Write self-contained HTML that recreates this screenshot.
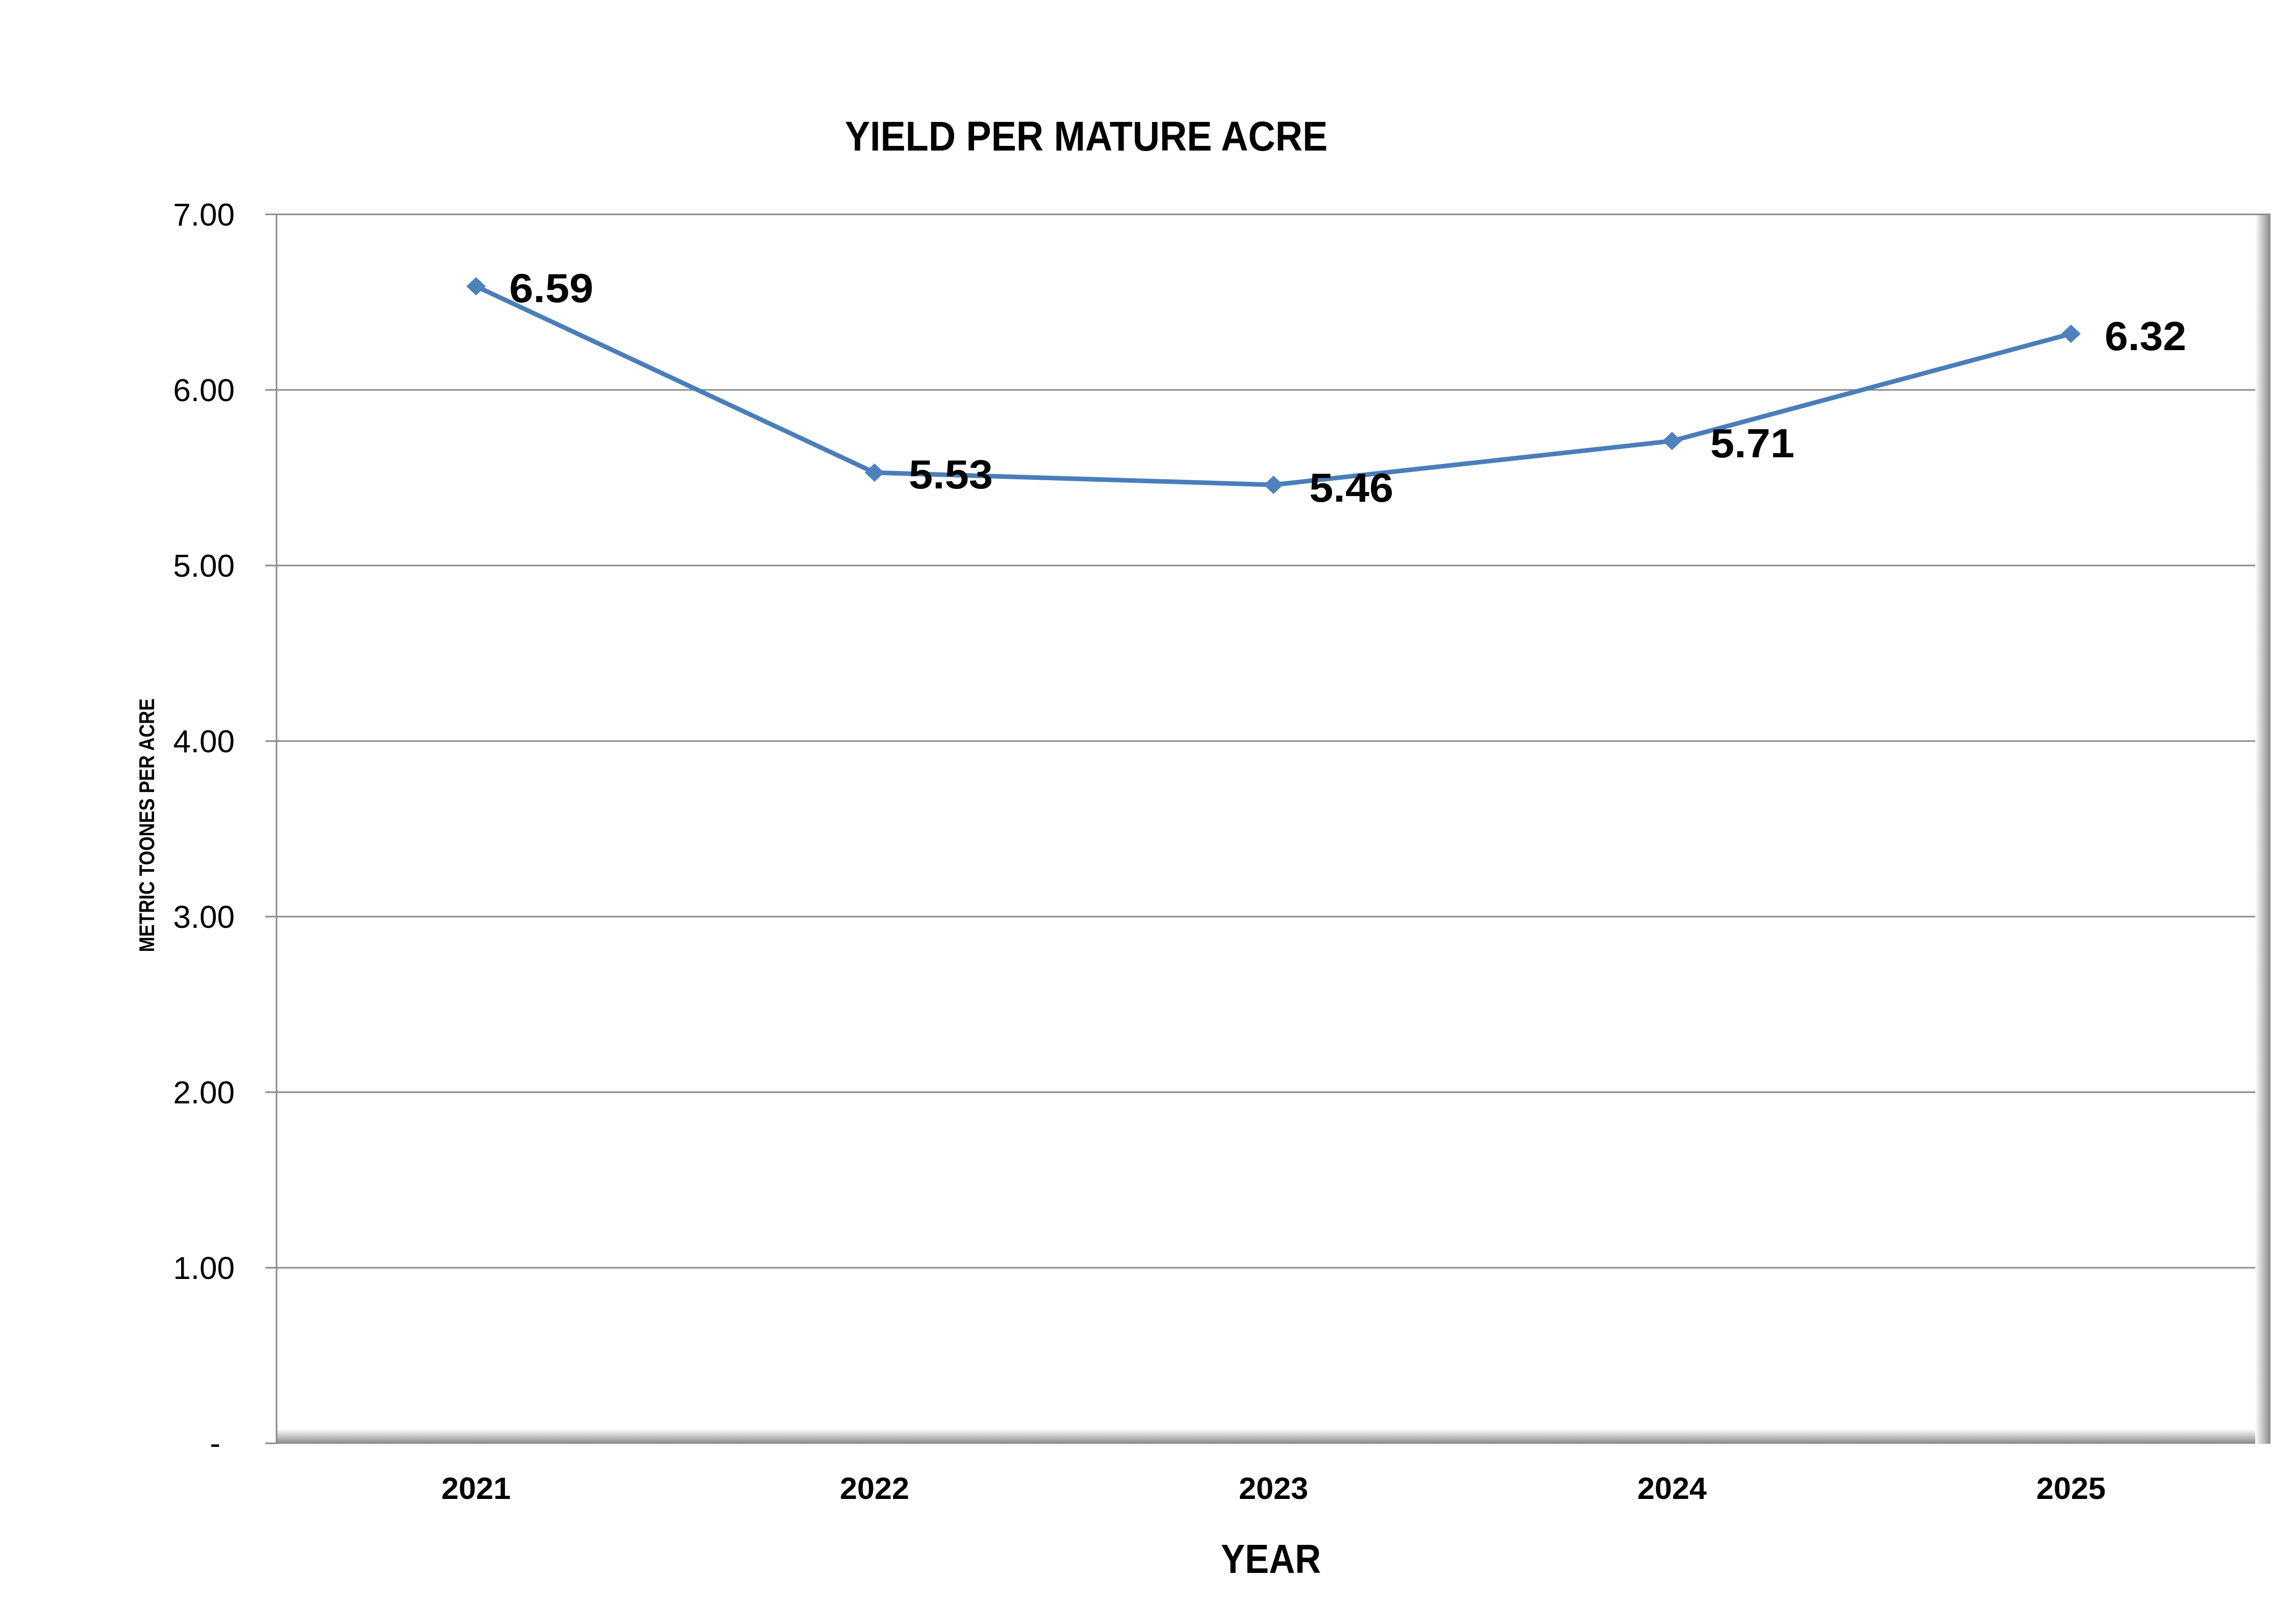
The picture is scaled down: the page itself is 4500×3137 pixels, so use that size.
<!DOCTYPE html>
<html><head><meta charset="utf-8"><style>
html,body{margin:0;padding:0;background:#fff}
svg{display:block}
text{font-family:"Liberation Sans",sans-serif;fill:#000}
</style></head><body>
<svg width="4500" height="3137" viewBox="0 0 4500 3137" xmlns="http://www.w3.org/2000/svg">
<defs>
<linearGradient id="gb" x1="0" y1="0" x2="0" y2="1">
<stop offset="0" stop-color="#fff"/><stop offset="1" stop-color="#888"/></linearGradient>
<linearGradient id="gr" x1="0" y1="0" x2="1" y2="0">
<stop offset="0" stop-color="#fff"/><stop offset="1" stop-color="#888"/></linearGradient>
</defs>
<rect width="4500" height="3137" fill="#fff"/>
<rect x="542" y="2800" width="3908" height="29" fill="url(#gb)"/>
<rect x="4420" y="420" width="30" height="2409" fill="url(#gr)"/>
<g stroke="#888" stroke-width="3">
<line x1="520" y1="420" x2="4450" y2="420"/>
<line x1="520" y1="764" x2="4420" y2="764"/>
<line x1="520" y1="1108" x2="4420" y2="1108"/>
<line x1="520" y1="1452" x2="4420" y2="1452"/>
<line x1="520" y1="1796" x2="4420" y2="1796"/>
<line x1="520" y1="2140" x2="4420" y2="2140"/>
<line x1="520" y1="2484" x2="4420" y2="2484"/>
<line x1="520" y1="2828" x2="542" y2="2828"/>
<line x1="542" y1="420" x2="542" y2="2829"/>
</g>
<g font-size="62" text-anchor="end">
<text x="460" y="442">7.00</text>
<text x="460" y="786">6.00</text>
<text x="460" y="1130">5.00</text>
<text x="460" y="1474">4.00</text>
<text x="460" y="1818">3.00</text>
<text x="460" y="2162">2.00</text>
<text x="460" y="2506">1.00</text>
<text x="432" y="2849">-</text>
</g>
<g font-size="60" font-weight="bold" text-anchor="middle">
<text x="933" y="2937" textLength="136" lengthAdjust="spacingAndGlyphs">2021</text>
<text x="1714" y="2937" textLength="136" lengthAdjust="spacingAndGlyphs">2022</text>
<text x="2496" y="2937" textLength="136" lengthAdjust="spacingAndGlyphs">2023</text>
<text x="3277" y="2937" textLength="136" lengthAdjust="spacingAndGlyphs">2024</text>
<text x="4059" y="2937" textLength="136" lengthAdjust="spacingAndGlyphs">2025</text>
</g>
<text x="1656" y="295" font-size="82" font-weight="bold" textLength="946" lengthAdjust="spacingAndGlyphs">YIELD PER MATURE ACRE</text>
<text x="2491" y="3082" font-size="80" font-weight="bold" text-anchor="middle" textLength="196" lengthAdjust="spacingAndGlyphs">YEAR</text>
<text transform="translate(302,1617) rotate(-90)" font-size="42" font-weight="bold" text-anchor="middle" textLength="497" lengthAdjust="spacingAndGlyphs">METRIC TOONES PER ACRE</text>
<polyline points="933,561 1714,926 2496,950 3277,864 4059,654" fill="none" stroke="#4a7ebb" stroke-width="9" stroke-linejoin="round"/>
<g fill="#4f81bd">
<polygon points="933,543 952,561 933,579 914,561"/>
<polygon points="1714,908 1733,926 1714,944 1695,926"/>
<polygon points="2496,932 2515,950 2496,968 2477,950"/>
<polygon points="3277,846 3296,864 3277,882 3258,864"/>
<polygon points="4059,636 4078,654 4059,672 4040,654"/>
</g>
<g font-size="80" font-weight="bold">
<text x="998" y="592" textLength="165" lengthAdjust="spacingAndGlyphs">6.59</text>
<text x="1781" y="957" textLength="165" lengthAdjust="spacingAndGlyphs">5.53</text>
<text x="2566" y="983" textLength="165" lengthAdjust="spacingAndGlyphs">5.46</text>
<text x="3352" y="896" textLength="165" lengthAdjust="spacingAndGlyphs">5.71</text>
<text x="4125" y="686" textLength="160" lengthAdjust="spacingAndGlyphs">6.32</text>
</g>
</svg>
</body></html>
